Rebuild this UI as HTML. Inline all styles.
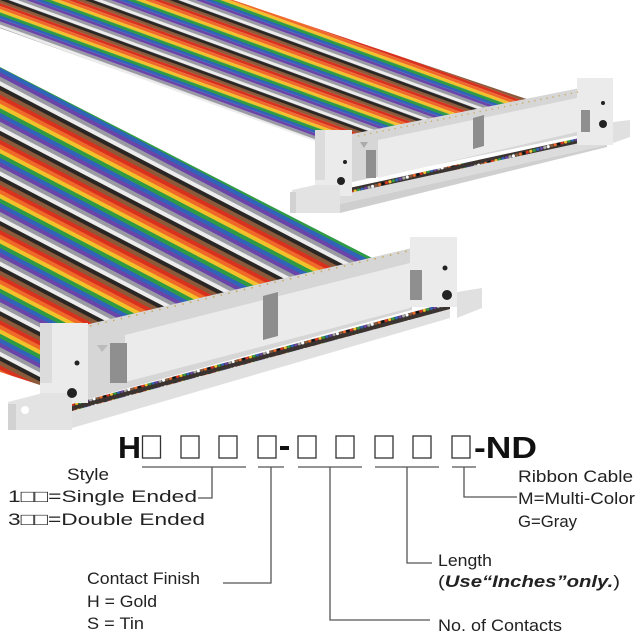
<!DOCTYPE html>
<html><head><meta charset="utf-8"><style>
html,body{margin:0;padding:0;background:#fff;width:640px;height:640px;overflow:hidden}
svg{display:block}
.t{font-family:"Liberation Sans",sans-serif;font-size:17px;fill:#222}
.b{font-family:"Liberation Sans",sans-serif;font-weight:bold;font-size:31px;fill:#111}
</style></head><body>
<svg width="640" height="640" viewBox="0 0 640 640" xmlns="http://www.w3.org/2000/svg">
<defs>
<pattern id="pu" patternUnits="userSpaceOnUse" width="40" height="29" patternTransform="rotate(20)">
<rect y="0" width="40" height="2.9" fill="#8a5a3a"/><rect y="2.9" width="40" height="2.9" fill="#d8321e"/>
<rect y="5.8" width="40" height="2.9" fill="#ef6a28"/><rect y="8.7" width="40" height="2.9" fill="#f2c22a"/>
<rect y="11.6" width="40" height="2.9" fill="#2f9a44"/><rect y="14.5" width="40" height="2.9" fill="#2f64b8"/>
<rect y="17.4" width="40" height="2.9" fill="#6a44a8"/><rect y="20.3" width="40" height="2.9" fill="#9a9aa2"/>
<rect y="23.2" width="40" height="2.9" fill="#ececec"/><rect y="26.1" width="40" height="2.9" fill="#2a2624"/>
</pattern>
<pattern id="pl" patternUnits="userSpaceOnUse" width="40" height="40" patternTransform="rotate(27.5)">
<rect y="0" width="40" height="4" fill="#8a5a3a"/><rect y="4" width="40" height="4" fill="#d8321e"/>
<rect y="8" width="40" height="4" fill="#ef6a28"/><rect y="12" width="40" height="4" fill="#f2c22a"/>
<rect y="16" width="40" height="4" fill="#2f9a44"/><rect y="20" width="40" height="4" fill="#2f64b8"/>
<rect y="24" width="40" height="4" fill="#6a44a8"/><rect y="28" width="40" height="4" fill="#9a9aa2"/>
<rect y="32" width="40" height="4" fill="#ececec"/><rect y="36" width="40" height="4" fill="#2a2624"/>
</pattern>
<pattern id="dots" patternUnits="userSpaceOnUse" width="36" height="7" patternTransform="rotate(-15)">
<rect width="36" height="7" fill="#3a3330"/>
<circle cx="2" cy="3.5" r="1.6" fill="#d8321e"/><circle cx="5.6" cy="3.5" r="1.6" fill="#f2c22a"/>
<circle cx="9.2" cy="3.5" r="1.6" fill="#2f9a44"/><circle cx="12.8" cy="3.5" r="1.6" fill="#2f64b8"/>
<circle cx="16.4" cy="3.5" r="1.6" fill="#6a44a8"/><circle cx="20" cy="3.5" r="1.6" fill="#aaa"/>
<circle cx="23.6" cy="3.5" r="1.6" fill="#fff"/><circle cx="27.2" cy="3.5" r="1.6" fill="#8a5a3a"/>
<circle cx="30.8" cy="3.5" r="1.6" fill="#ef6a28"/><circle cx="34.4" cy="3.5" r="1.6" fill="#111"/>
</pattern>
</defs>

<!-- upper cable -->
<polygon points="0,0 233,0 565,112 345,152 0,28" fill="url(#pu)"/>
<!-- upper connector -->
<polygon points="352,134 580,88 580,135 352,182" fill="#d6d6d6"/>
<polygon points="378,140 577,98 577,132 378,178" fill="#ebebeb"/>
<polygon points="473,118 484,115 484,146 473,149" fill="#8d8d8d"/>
<polygon points="340,190 607,132 607,145 340,204" fill="#dcdcdc"/>
<polygon points="340,190 607,132 607,137 340,195" fill="url(#dots)"/>
<polygon points="340,204 607,145 607,147 340,213" fill="#cfcfcf"/>
<rect x="315" y="130" width="37" height="66" fill="#ebebeb"/>
<rect x="315" y="130" width="10" height="50" fill="#dcdcdc"/>
<polygon points="292,190 315,185 340,185 340,213 292,213" fill="#e3e3e3"/>
<rect x="290" y="192" width="6" height="21" fill="#d2d2d2"/>
<rect x="366" y="150" width="10" height="28" fill="#8f8f8f"/>
<polygon points="360,142 368,142 364,148" fill="#aaa"/>
<circle cx="345" cy="162" r="2" fill="#222"/>
<circle cx="341" cy="181" r="4" fill="#222"/>
<rect x="577" y="78" width="36" height="67" fill="#ebebeb"/>
<rect x="581" y="110" width="9" height="22" fill="#8f8f8f"/>
<circle cx="603" cy="103" r="2" fill="#222"/>
<circle cx="603" cy="124" r="4" fill="#222"/>
<polygon points="613,122 630,120 630,137 613,143" fill="#e0e0e0"/>
<line x1="358" y1="136" x2="578" y2="92" stroke="#c8a85a" stroke-width="1.4" stroke-dasharray="1.2,5"/>

<!-- lower cable -->
<polygon points="0,67 380,262 412,250 90,328 40,330 40,385 0,372" fill="url(#pl)"/>
<!-- lower connector -->
<polygon points="85,325 412,248 412,310 85,400" fill="#d6d6d6"/>
<polygon points="125,335 410,263 410,308 125,382" fill="#ebebeb"/>
<polygon points="263,296 278,292 278,336 263,340" fill="#8d8d8d"/>
<polygon points="72,404 450,302 450,318 72,428" fill="#e0e0e0"/>
<polygon points="72,404 450,302 450,309 72,411" fill="url(#dots)"/>
<rect x="40" y="323" width="48" height="80" fill="#ebebeb"/>
<rect x="40" y="323" width="12" height="60" fill="#dcdcdc"/>
<polygon points="8,402 43,393 72,393 72,430 8,430" fill="#e3e3e3"/>
<rect x="8" y="404" width="8" height="26" fill="#d2d2d2"/>
<circle cx="25" cy="410" r="4" fill="#fff"/>
<rect x="110" y="343" width="17" height="40" fill="#8f8f8f"/>
<polygon points="97,345 108,345 102,352" fill="#bbb"/>
<circle cx="77" cy="363" r="2.5" fill="#222"/>
<circle cx="72" cy="393" r="5" fill="#222"/>
<rect x="410" y="237" width="47" height="70" fill="#ebebeb"/>
<rect x="410" y="270" width="12" height="30" fill="#8f8f8f"/>
<circle cx="445" cy="268" r="2.5" fill="#222"/>
<circle cx="447" cy="295" r="5" fill="#222"/>
<polygon points="457,292 482,288 482,308 457,318" fill="#e0e0e0"/>
<line x1="90" y1="326" x2="408" y2="251" stroke="#c8a85a" stroke-width="1.6" stroke-dasharray="1.4,6.5"/>

<!-- part number -->
<text class="b" x="118" y="458" textLength="23" lengthAdjust="spacingAndGlyphs">H</text>
<g fill="none" stroke="#333" stroke-width="1.3">
<rect x="142.5" y="436" width="18" height="22"/><rect x="181" y="436" width="18" height="22"/>
<rect x="219" y="436" width="18" height="22"/><rect x="258" y="436" width="18" height="22"/>
<rect x="298" y="436" width="18" height="22"/><rect x="336" y="436" width="18" height="22"/>
<rect x="375" y="436" width="18" height="22"/><rect x="413" y="436" width="18" height="22"/>
<rect x="452" y="436" width="18" height="22"/>
</g>
<rect x="280" y="446" width="9" height="4" fill="#111"/>
<text class="b" x="474" y="458" textLength="63" lengthAdjust="spacingAndGlyphs">-ND</text>
<g stroke="#555" stroke-width="1.3" fill="none">
<line x1="142" y1="467" x2="246" y2="467"/><line x1="258" y1="467" x2="284" y2="467"/>
<line x1="298" y1="467" x2="362" y2="467"/><line x1="375" y1="467" x2="439" y2="467"/>
<line x1="452" y1="467" x2="476" y2="467"/>
<polyline points="212,467 212,498 198,498"/>
<polyline points="271,467 271,583 223,583"/>
<polyline points="330,467 330,620 430,620"/>
<polyline points="407,467 407,563 432,563"/>
<polyline points="464,467 464,497 517,497"/>
</g>
<text class="t" x="67" y="480" textLength="42" lengthAdjust="spacingAndGlyphs">Style</text>
<text class="t" x="8" y="502" textLength="189" lengthAdjust="spacingAndGlyphs">1□□=Single Ended</text>
<text class="t" x="8" y="525" textLength="197" lengthAdjust="spacingAndGlyphs">3□□=Double Ended</text>
<text class="t" x="87" y="584" textLength="113" lengthAdjust="spacingAndGlyphs">Contact Finish</text>
<text class="t" x="87" y="607" textLength="70" lengthAdjust="spacingAndGlyphs">H = Gold</text>
<text class="t" x="87" y="629" textLength="57" lengthAdjust="spacingAndGlyphs">S = Tin</text>
<text class="t" x="438" y="566" textLength="54" lengthAdjust="spacingAndGlyphs">Length</text>
<text class="t" x="438" y="587" textLength="182" lengthAdjust="spacingAndGlyphs">(<tspan font-weight="bold" font-style="italic">Use“Inches”only.</tspan>)</text>
<text class="t" x="438" y="631" textLength="124" lengthAdjust="spacingAndGlyphs">No. of Contacts</text>
<text class="t" x="518" y="482" textLength="115" lengthAdjust="spacingAndGlyphs">Ribbon Cable</text>
<text class="t" x="518" y="504" textLength="117" lengthAdjust="spacingAndGlyphs">M=Multi-Color</text>
<text class="t" x="518" y="527" textLength="59" lengthAdjust="spacingAndGlyphs">G=Gray</text>
</svg>
</body></html>
